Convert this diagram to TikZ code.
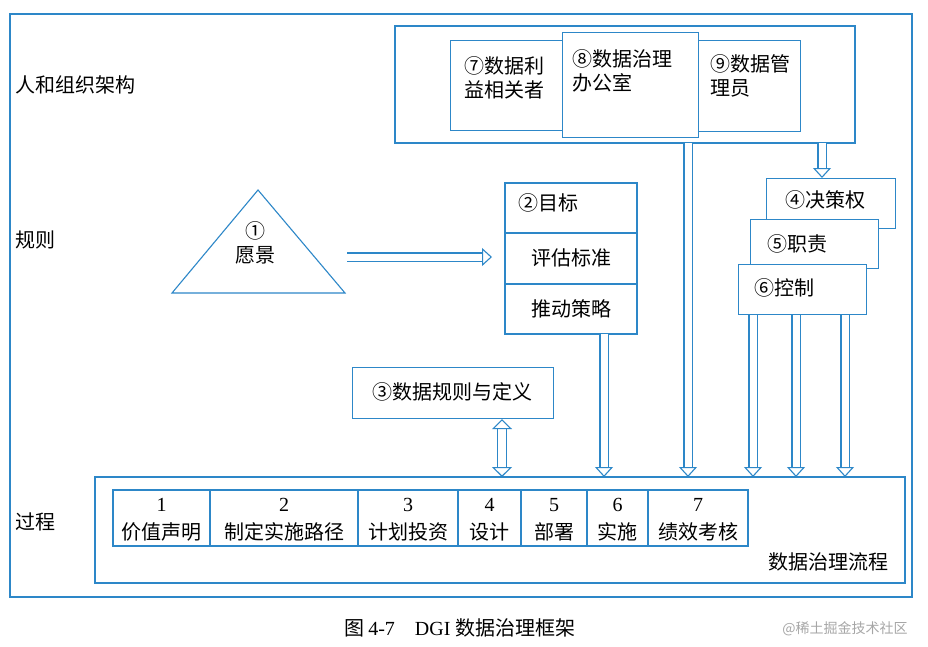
\documentclass[tikz,border=0pt]{standalone}
\usepackage{fontspec}
\setmainfont{Noto Sans CJK SC}
\newfontfamily\serifnum{Liberation Serif}
\usetikzlibrary{arrows.meta}
\definecolor{bl}{RGB}{45,135,200}
\begin{document}
\begin{tikzpicture}[x=1pt,y=-1pt,
  box/.style={draw=bl,line width=1.1pt,fill=white},
  txt/.style={font=\fontsize{20}{24}\selectfont,inner sep=0pt},
  tip/.style={Triangle[length=10pt,width=18pt,fill=white,line width=1.1pt]},
  harrow/.style={draw=bl,double=white,double distance=7pt,line width=1.1pt,-{Triangle[length=10pt,width=18pt,fill=white,line width=1.1pt]}},
  hdarrow/.style={draw=bl,double=white,double distance=8pt,line width=1.1pt,{Triangle[length=10pt,width=20pt,fill=white,line width=1.1pt]}-{Triangle[length=10pt,width=20pt,fill=white,line width=1.1pt]}}]
\useasboundingbox (0,0) rectangle (928,646);
\draw[box] (10,14) rectangle (912,597);
% org
\draw[box] (395,26) rectangle (855,143);
\node[box,minimum width=112pt,minimum height=90pt,anchor=north west,inner sep=0pt] (s7) at (450,40) {};
\node[box,minimum width=102pt,minimum height=91pt,anchor=north west,inner sep=0pt] (s9) at (698,40) {};
\node[box,minimum width=136pt,minimum height=105pt,anchor=north west,inner sep=0pt] (s8) at (562,32) {};
\node[txt,align=left,anchor=north west] (t7) at (464,56) {⑦数据利\\益相关者};
\node[txt,align=left,anchor=north west] (t8) at (572,49) {⑧数据治理\\办公室};
\node[txt,align=left,anchor=north west] (t9) at (710,54) {⑨数据管\\理员};
\coordinate (org) at (822,143);
\coordinate (orgb) at (688,143);
% labels
\node[txt,anchor=west] (l1) at (15,85) {人和组织架构};
\node[txt,anchor=west] (l2) at (15,240) {规则};
\node[txt,anchor=west] (l3) at (15,522) {过程};
% triangle
\draw[box] (258,190) -- (345,293) -- (172,293) -- cycle;
\node[txt,align=center] (vis) at (255,243) {①\\愿景};
\coordinate (tri) at (347,257);
% goal box
\draw[box] (505,183) rectangle (637,334);
\draw[bl,line width=1.1pt] (505,233) -- (637,233) (505,284) -- (637,284);
\node[txt,anchor=west] (g1) at (518,203) {②目标};
\node[txt] (g2) at (571,258) {评估标准};
\node[txt] (g3) at (571,309) {推动策略};
\coordinate (goalw) at (492,257);
\coordinate (goalb) at (604,334);
% rights
\node[box,minimum width=129pt,minimum height=50pt,anchor=north west,inner sep=0pt] (r4) at (766,178) {};
\node[txt,anchor=west] at (785,200) {④决策权};
\node[box,minimum width=128pt,minimum height=49pt,anchor=north west,inner sep=0pt] (r5) at (750,219) {};
\node[txt,anchor=west] at (767,244) {⑤职责};
\node[box,minimum width=128pt,minimum height=50pt,anchor=north west,inner sep=0pt] (r6) at (738,264) {};
\node[txt,anchor=west] at (754,288) {⑥控制};
% rules
\node[box,minimum width=201pt,minimum height=51pt,anchor=north west,inner sep=0pt] (r3) at (352,367) {};
\node[txt] at (452,392) {③数据规则与定义};
% process
\draw[box] (95,477) rectangle (905,583);
\foreach \a/\b/\n/\t in {113/210/1/价值声明,210/358/2/制定实施路径,358/458/3/计划投资,458/521/4/设计,521/587/5/部署,587/648/6/实施,648/748/7/绩效考核}{
  \draw[bl,line width=1.1pt] (\a,490) rectangle (\b,546);
  \node[txt] at ({(\a+\b)/2},505) {\serifnum\n};
  \node[txt] at ({(\a+\b)/2},532) {\t};
}
\node[txt] (flow) at (828,562) {数据治理流程};
% arrows
\draw[harrow] (tri) -- (goalw);
\draw[harrow] (goalb) -- (604,477);
\draw[harrow] (orgb) -- (688,477);
\draw[harrow] (org) -- (r4.north -| org);
\draw[harrow] (r6.south -| 753,0) -- (753,477);
\draw[harrow] (r6.south -| 796,0) -- (796,477);
\draw[harrow] (r6.south -| 845,0) -- (845,477);
\draw[hdarrow] (r3.south -| 502,0) -- (502,477);
% caption
\node[inner sep=0pt,font=\fontsize{20}{24}\selectfont] (cap) at (460,628) {图\,{\serifnum 4-7}\quad{\serifnum DGI} 数据治理框架};
\node[inner sep=0pt,text=gray!70,font=\fontsize{14}{16}\selectfont] (wm) at (845,629) {@稀土掘金技术社区};
\end{tikzpicture}
\end{document}
